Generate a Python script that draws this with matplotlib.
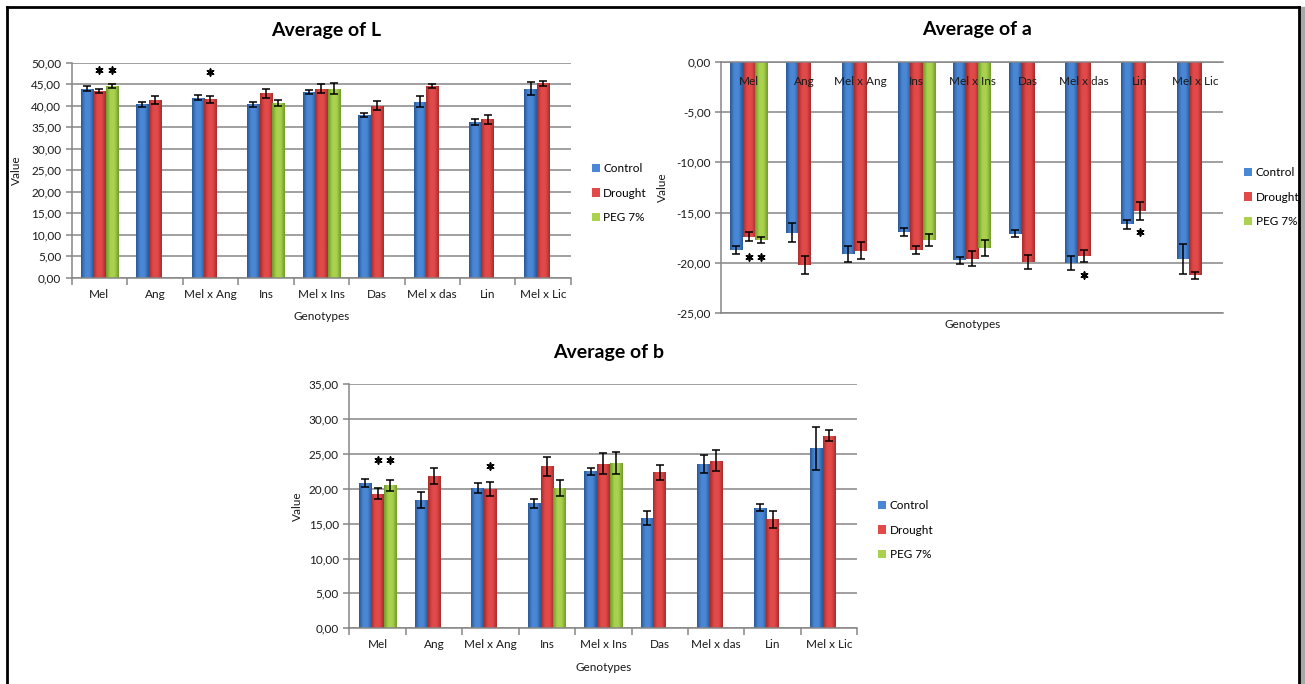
import numpy as np
import matplotlib.pyplot as plt
from matplotlib.colors import LinearSegmentedColormap
from matplotlib.lines import Line2D
from matplotlib.patches import Rectangle
from matplotlib.ticker import FuncFormatter, MultipleLocator

plt.rcParams['font.family'] = ['Lato', 'DejaVu Sans']

genotypes = ["Mel", "Ang", "Mel x Ang", "Ins", "Mel x Ins", "Das", "Mel x das", "Lin", "Mel x Lic"]
treatments = ["Control", "Drought", "PEG 7%"]
peg_idx = [0, 3, 4]  # genotypes that also have a PEG 7% treatment

# Average of L
L_control = [44.0, 40.3, 41.9, 40.3, 43.2, 37.8, 40.9, 36.2, 44.0]
L_control_err = [0.5, 0.6, 0.6, 0.5, 0.5, 0.4, 1.3, 0.8, 1.6]
L_drought = [43.5, 41.3, 41.5, 42.9, 44.0, 40.0, 44.6, 36.8, 45.2]
L_drought_err = [0.5, 0.9, 0.8, 1.0, 1.0, 1.0, 0.5, 1.1, 0.6]
L_peg = [44.6, 40.6, 44.0]
L_peg_err = [0.5, 0.7, 1.3]
L_stars = [(0, 1, 48.3), (0, 2, 48.3), (2, 1, 47.8)]

# Average of a
a_control = [-18.7, -17.0, -19.1, -16.9, -19.75, -17.1, -20.0, -16.15, -19.6]
a_control_err = [0.4, 0.95, 0.8, 0.4, 0.35, 0.35, 0.7, 0.45, 1.5]
a_drought = [-17.4, -20.2, -18.8, -18.75, -19.6, -19.9, -19.3, -14.8, -21.2]
a_drought_err = [0.45, 0.85, 0.85, 0.4, 0.75, 0.7, 0.6, 0.9, 0.35]
a_peg = [-17.7, -17.7, -18.5]
a_peg_err = [0.3, 0.6, 0.8]
a_stars = [(0, 1, -19.4), (0, 2, -19.4), (6, 1, -21.2), (7, 1, -16.9)]

# Average of b
b_control = [20.8, 18.4, 20.1, 17.9, 22.5, 15.85, 23.55, 17.3, 25.8]
b_control_err = [0.6, 1.2, 0.7, 0.6, 0.5, 1.0, 1.3, 0.55, 3.1]
b_drought = [19.3, 21.8, 19.9, 23.2, 23.6, 22.35, 24.0, 15.6, 27.6]
b_drought_err = [0.8, 1.1, 1.0, 1.4, 1.5, 1.1, 1.5, 1.2, 0.8]
b_peg = [20.5, 20.1, 23.7]
b_peg_err = [0.8, 1.1, 1.6]
b_stars = [(0, 1, 24.1), (0, 2, 24.1), (2, 1, 23.2)]

shades = [("#2A5796", "#4A88D6"), ("#A72B2B", "#E24A4A"), ("#6F9A2A", "#AAD24E")]
GRID = "#868686"
TXT = "#1a1a1a"
FS = 8.5
W = 0.225


def comma(v, pos):
    return f"{v:.2f}".replace(".", ",")


def shade_bars(ax, bars, dark, light):
    cmap = LinearSegmentedColormap.from_list("g", [dark, light, light, dark])
    grad = np.linspace(0, 1, 64).reshape(1, -1)
    for b in bars:
        x, y = b.get_x(), b.get_y()
        w, h = b.get_width(), b.get_height()
        im = ax.imshow(grad, cmap=cmap, extent=[x, x + w, y, y + h], aspect="auto",
                       interpolation="bicubic", zorder=2.1)
        im.set_clip_path(b)


def draw(ax, series, stars, ymin, ymax, title, legend_y, top_labels=False):
    x = np.arange(len(genotypes))
    for k, (idx, vals, err) in enumerate(series):
        pos = x[idx] + (k - 1) * W
        bars = ax.bar(pos, vals, W, color=shades[k][1], zorder=2, label=treatments[k])
        shade_bars(ax, bars, *shades[k])
        ax.errorbar(pos, vals, yerr=err, fmt="none", ecolor="black", elinewidth=1.1,
                    capsize=3.2, capthick=1.1, zorder=5)
    for g, t, yv in stars:
        ax.scatter(x[g] + (t - 1) * W, yv, marker=(6, 2, 0), s=24, color="black",
                   linewidths=1.2, zorder=6)

    ax.set_xlim(-0.5, len(genotypes) - 0.5)
    ax.set_ylim(ymin, ymax)
    ax.yaxis.set_major_locator(MultipleLocator(5))
    ax.yaxis.set_major_formatter(FuncFormatter(comma))
    ax.grid(axis="y", color=GRID, lw=1.1, zorder=0)
    ax.set_axisbelow(True)
    ax.spines["right"].set_visible(False)
    for s in ["left", "bottom", "top"]:
        ax.spines[s].set_color(GRID)
        ax.spines[s].set_linewidth(1.1)
    ax.tick_params(axis="y", labelcolor=TXT, labelsize=FS, length=4, width=1.1, color=GRID)

    if top_labels:
        ax.set_xticks([])
        for i, name in enumerate(genotypes):
            ax.annotate(name, (x[i], 0), xytext=(0, -14), textcoords="offset points",
                        ha="center", va="center", fontsize=FS, color=TXT, zorder=7)
        ax.set_xlabel("Genotypes", fontsize=FS, labelpad=4, color=TXT)
    else:
        ax.spines["top"].set_visible(False)
        ax.set_xticks(np.arange(len(genotypes) + 1) - 0.5)
        ax.set_xticklabels([])
        ax.set_xticks(x, genotypes, minor=True)
        ax.tick_params(axis="x", which="major", length=5, width=1.1, color=GRID)
        ax.tick_params(axis="x", which="minor", length=0, pad=8, labelsize=FS, labelcolor=TXT)
        ax.set_xlabel("Genotypes", fontsize=FS, labelpad=8, color=TXT)

    ax.set_ylabel("Value", fontsize=FS, color=TXT)
    ax.set_title(title, fontsize=14, fontweight="bold", pad=19, x=0.51)
    ax.legend(loc="center left", bbox_to_anchor=(1.02, legend_y), frameon=False, fontsize=FS,
              handlelength=0.7, handleheight=0.7, handletextpad=0.3, labelspacing=1.15)


fig = plt.figure(figsize=(13.05, 6.84), dpi=100)

axL = fig.add_axes([0.0549, 0.594, 0.3826, 0.3143])
draw(axL, [(list(range(9)), L_control, L_control_err),
           (list(range(9)), L_drought, L_drought_err),
           (peg_idx, L_peg, L_peg_err)], L_stars, 0, 50, "Average of L", 0.394)
axL.yaxis.set_label_coords(-0.0995, 0.5)

axA = fig.add_axes([0.5525, 0.5420, 0.3849, 0.3678])
draw(axA, [(list(range(9)), a_control, a_control_err),
           (list(range(9)), a_drought, a_drought_err),
           (peg_idx, a_peg, a_peg_err)], a_stars, -25, 0, "Average of a", 0.462, top_labels=True)
axA.yaxis.set_label_coords(-0.1055, 0.5)

axB = fig.add_axes([0.2677, 0.0814, 0.3893, 0.3572])
draw(axB, [(list(range(9)), b_control, b_control_err),
           (list(range(9)), b_drought, b_drought_err),
           (peg_idx, b_peg, b_peg_err)], b_stars, 0, 35, "Average of b", 0.402)
axB.yaxis.set_label_coords(-0.091, 0.5)

# outer frame of the sheet
fig.add_artist(Line2D([0.0056, 0.9954], [0.990, 0.990], transform=fig.transFigure, color="black", lw=2))
fig.add_artist(Line2D([0.0056, 0.0056], [0.0, 0.990], transform=fig.transFigure, color="black", lw=2))
fig.add_artist(Line2D([0.9954, 0.9954], [0.0, 0.990], transform=fig.transFigure, color="black", lw=2))
fig.add_artist(Rectangle((0.9965, 0), 0.0035, 0.99, transform=fig.transFigure, color="#A8A8A8"))

fig.savefig("out.png", dpi=100)
